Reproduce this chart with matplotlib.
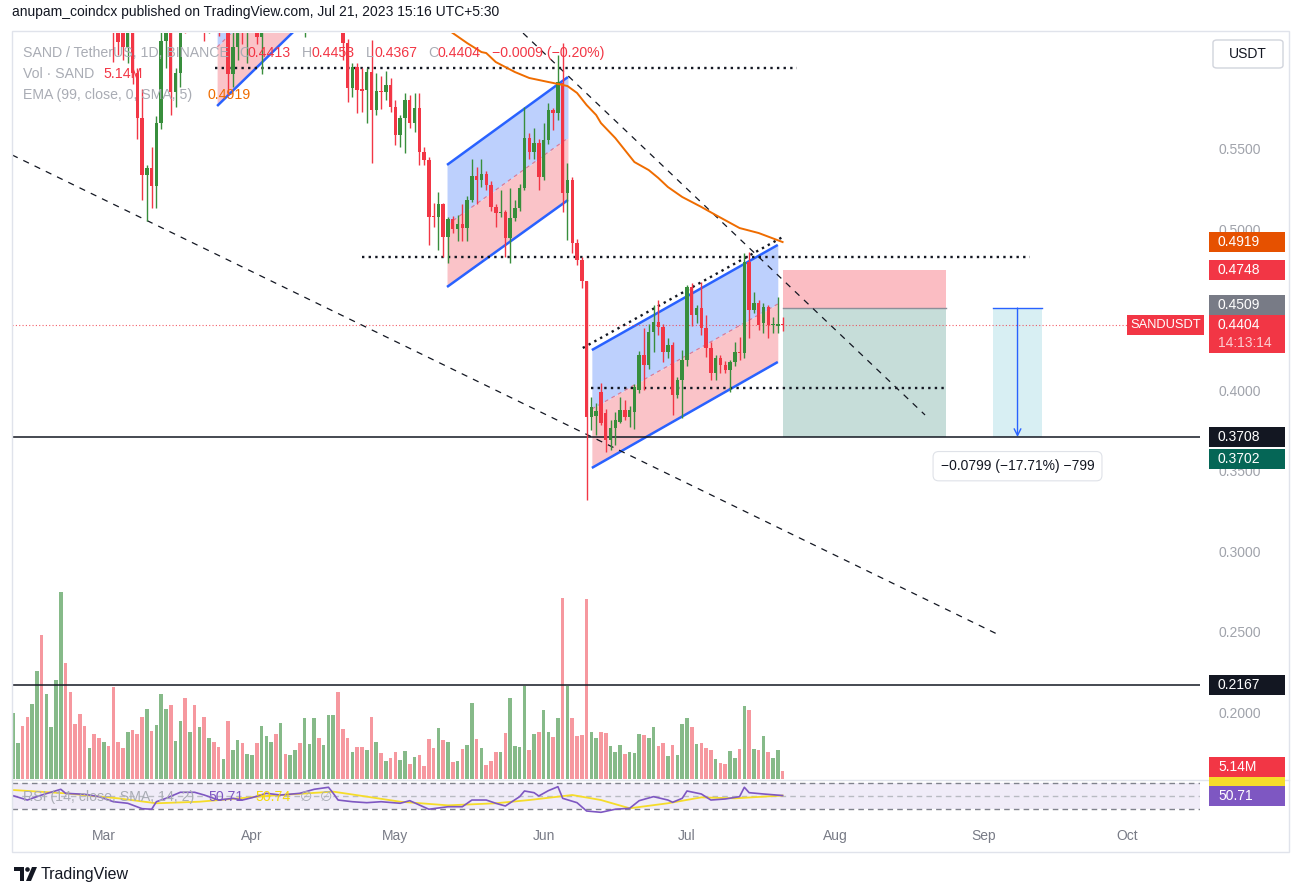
import numpy as np
import pandas as pd
import matplotlib
matplotlib.use("Agg")
import matplotlib.pyplot as plt
from matplotlib.patches import Rectangle, Polygon, Ellipse, FancyBboxPatch
from matplotlib.transforms import blended_transform_factory

plt.rcParams['font.family'] = ['Liberation Sans', 'DejaVu Sans']

# ---------------- data (daily SAND/USDT, from 2023-02-10) ----------------
START = "2023-02-10"
opens = [
    0.680, 0.690, 0.700, 0.680, 0.660, 0.690, 0.740, 0.700, 0.730, 0.750,
    0.780, 0.810, 0.780, 0.750, 0.730, 0.720, 0.700, 0.720, 0.690, 0.670,
    0.690, 0.660, 0.628, 0.623, 0.613, 0.628, 0.597, 0.569, 0.5335, 0.538,
    0.527, 0.566, 0.617, 0.625, 0.585, 0.597, 0.632, 0.626, 0.645, 0.635,
    0.648, 0.628, 0.640, 0.632, 0.628, 0.640, 0.596, 0.613, 0.630, 0.622,
    0.635, 0.645, 0.619, 0.640, 0.652, 0.665, 0.655, 0.670, 0.660, 0.680,
    0.700, 0.670, 0.690, 0.700, 0.710, 0.690, 0.700, 0.705, 0.710, 0.660,
    0.6155, 0.5876, 0.6006, 0.5866, 0.5863, 0.5975, 0.5739, 0.586, 0.5851, 0.5895,
    0.5758, 0.5584, 0.569, 0.580, 0.5658, 0.5752, 0.5478, 0.5429, 0.5078, 0.5075,
    0.5155, 0.495, 0.5062, 0.500, 0.503, 0.5005, 0.518, 0.533, 0.5305, 0.534,
    0.5273, 0.5137, 0.510, 0.5105, 0.4944, 0.5068, 0.513, 0.5255, 0.5565, 0.5478,
    0.5534, 0.5323, 0.5553, 0.5739, 0.572, 0.5907, 0.5224, 0.5304, 0.4913, 0.4807,
    0.4674, 0.3832, 0.3838, 0.3990, 0.3857, 0.3689, 0.3764, 0.3801, 0.3876, 0.3832,
    0.3863, 0.4000, 0.4217, 0.4155, 0.4360, 0.4422, 0.4391, 0.4236, 0.4280, 0.3969,
    0.4062, 0.4186, 0.4640, 0.4466, 0.4509, 0.4385, 0.4261, 0.4106, 0.4199, 0.4155,
    0.4124, 0.4174, 0.4236, 0.4230, 0.4795, 0.4497, 0.4540, 0.4416, 0.4516, 0.4404,
    0.4400, 0.4413]
highs = [
    0.700, 0.710, 0.705, 0.690, 0.700, 0.760, 0.770, 0.740, 0.760, 0.800,
    0.830, 0.820, 0.790, 0.760, 0.740, 0.730, 0.730, 0.725, 0.700, 0.700,
    0.695, 0.665, 0.635, 0.632, 0.640, 0.635, 0.600, 0.587, 0.540, 0.551,
    0.570, 0.630, 0.640, 0.635, 0.600, 0.640, 0.645, 0.655, 0.652, 0.660,
    0.652, 0.648, 0.646, 0.640, 0.650, 0.645, 0.625, 0.640, 0.645, 0.645,
    0.655, 0.650, 0.650, 0.660, 0.675, 0.672, 0.680, 0.680, 0.690, 0.715,
    0.705, 0.700, 0.710, 0.720, 0.715, 0.710, 0.715, 0.720, 0.712, 0.662,
    0.618, 0.603, 0.603, 0.600, 0.600, 0.6174, 0.597, 0.595, 0.598, 0.5938,
    0.580, 0.571, 0.5845, 0.583, 0.5845, 0.5845, 0.551, 0.545, 0.516, 0.523,
    0.516, 0.5075, 0.508, 0.509, 0.5155, 0.5205, 0.5435, 0.5385, 0.5435, 0.536,
    0.530, 0.5155, 0.524, 0.512, 0.5255, 0.518, 0.528, 0.5758, 0.5597, 0.5627,
    0.556, 0.5658, 0.5783, 0.575, 0.6081, 0.6155, 0.541, 0.532, 0.494, 0.4826,
    0.468, 0.3956, 0.392, 0.4043, 0.3880, 0.3814, 0.3863, 0.3957, 0.3938, 0.3900,
    0.4040, 0.4245, 0.4385, 0.4410, 0.4528, 0.4559, 0.4410, 0.4323, 0.4300, 0.4080,
    0.4248, 0.4652, 0.4665, 0.4528, 0.4670, 0.4466, 0.4298, 0.4217, 0.4217, 0.4180,
    0.4186, 0.4300, 0.4330, 0.4851, 0.4857, 0.4609, 0.4559, 0.4540, 0.4530, 0.4455,
    0.4578, 0.4453]
lows = [
    0.670, 0.680, 0.670, 0.650, 0.655, 0.685, 0.690, 0.690, 0.720, 0.740,
    0.770, 0.760, 0.740, 0.720, 0.700, 0.690, 0.690, 0.680, 0.660, 0.660,
    0.640, 0.604, 0.608, 0.605, 0.603, 0.590, 0.556, 0.518, 0.505, 0.513,
    0.513, 0.562, 0.600, 0.571, 0.576, 0.588, 0.622, 0.623, 0.628, 0.630,
    0.617, 0.622, 0.624, 0.620, 0.624, 0.583, 0.588, 0.605, 0.615, 0.603,
    0.628, 0.615, 0.596, 0.630, 0.645, 0.645, 0.650, 0.650, 0.655, 0.670,
    0.650, 0.619, 0.680, 0.690, 0.680, 0.685, 0.690, 0.695, 0.650, 0.605,
    0.5789, 0.582, 0.572, 0.5727, 0.566, 0.541, 0.571, 0.5745, 0.580, 0.5727,
    0.552, 0.551, 0.547, 0.563, 0.560, 0.5398, 0.5398, 0.4901, 0.501, 0.487,
    0.4826, 0.4789, 0.4975, 0.4925, 0.4925, 0.4925, 0.517, 0.5155, 0.526, 0.524,
    0.511, 0.5012, 0.5075, 0.4826, 0.4789, 0.505, 0.511, 0.5242, 0.5435, 0.5435,
    0.5242, 0.5305, 0.553, 0.5615, 0.5677, 0.5106, 0.4932, 0.4851, 0.4776, 0.4634,
    0.3317, 0.3751, 0.372, 0.378, 0.3615, 0.3627, 0.3658, 0.3795, 0.3814, 0.3770,
    0.3757, 0.3980, 0.4000, 0.4130, 0.4236, 0.4342, 0.4174, 0.4200, 0.3845, 0.3950,
    0.3826, 0.4150, 0.4400, 0.4416, 0.4340, 0.4205, 0.4062, 0.4062, 0.4106, 0.4106,
    0.3988, 0.4150, 0.4186, 0.4200, 0.4323, 0.4480, 0.4373, 0.4354, 0.4323, 0.4354,
    0.4354, 0.4367]
closes = [
    0.690, 0.700, 0.680, 0.660, 0.690, 0.740, 0.700, 0.730, 0.750, 0.780,
    0.810, 0.780, 0.750, 0.730, 0.720, 0.700, 0.720, 0.690, 0.670, 0.690,
    0.660, 0.628, 0.616, 0.613, 0.628, 0.597, 0.569, 0.5335, 0.538, 0.527,
    0.566, 0.617, 0.625, 0.585, 0.597, 0.625, 0.626, 0.645, 0.635, 0.648,
    0.628, 0.640, 0.632, 0.628, 0.640, 0.596, 0.613, 0.628, 0.622, 0.635,
    0.645, 0.619, 0.640, 0.652, 0.665, 0.655, 0.670, 0.660, 0.680, 0.700,
    0.670, 0.690, 0.700, 0.710, 0.690, 0.700, 0.705, 0.710, 0.660, 0.6155,
    0.5876, 0.6006, 0.5863, 0.5860, 0.5975, 0.5739, 0.586, 0.5851, 0.5895, 0.5758,
    0.5584, 0.569, 0.580, 0.5658, 0.5752, 0.5478, 0.5429, 0.5075, 0.5072, 0.5155,
    0.495, 0.5062, 0.500, 0.503, 0.5005, 0.518, 0.533, 0.5305, 0.534, 0.5273,
    0.5137, 0.510, 0.5105, 0.4944, 0.5068, 0.513, 0.5255, 0.5565, 0.5478, 0.5534,
    0.5323, 0.5553, 0.5739, 0.572, 0.5913, 0.5224, 0.5304, 0.4913, 0.4807, 0.4674,
    0.3832, 0.3894, 0.3870, 0.3795, 0.3689, 0.3764, 0.3814, 0.3876, 0.3832, 0.3876,
    0.4019, 0.4217, 0.4155, 0.4360, 0.4422, 0.4391, 0.4236, 0.4280, 0.3969, 0.4062,
    0.4186, 0.4640, 0.4466, 0.4509, 0.4385, 0.4261, 0.4106, 0.4199, 0.4155, 0.4124,
    0.4174, 0.4236, 0.4230, 0.4795, 0.4497, 0.4540, 0.4404, 0.4516, 0.4404, 0.4410,
    0.4413, 0.4404]
volumes_m = [
    40.5, 22.4, 32.9, 38.5, 46.5, 66.9, 89.1, 52.7, 32.3, 61.3,
    115.2, 71.8, 53.9, 34.2, 40.3, 32.9, 19.3, 28.0, 25.5, 23.0,
    20.6, 57.0, 23.0, 19.3, 29.2, 30.5, 28.0, 38.5, 43.4, 29.8,
    33.5, 52.7, 43.4, 45.9, 23.7, 36.0, 50.2, 29.2, 45.9, 31.9,
    38.5, 25.5, 23.0, 20.0, 12.6, 36.0, 18.1, 24.3, 22.4, 15.6,
    15.0, 22.4, 32.9, 26.7, 23.0, 28.0, 34.8, 15.6, 15.0, 18.1,
    22.4, 37.9, 21.8, 37.9, 25.5, 21.2, 39.7, 39.7, 53.9, 31.1,
    25.5, 16.9, 20.0, 20.0, 18.1, 38.5, 23.0, 16.3, 11.3, 13.2,
    16.9, 11.9, 17.5, 9.5, 13.8, 15.0, 8.2, 24.9, 19.3, 31.7,
    24.3, 23.0, 10.7, 11.3, 18.7, 21.2, 47.1, 24.9, 19.3, 8.8,
    11.3, 16.9, 16.9, 28.6, 50.2, 20.6, 20.0, 57.6, 18.1, 28.0,
    29.2, 42.8, 29.2, 26.1, 37.9, 111.9, 57.6, 37.9, 26.7, 27.4,
    111.3, 29.2, 25.5, 29.2, 28.6, 20.6, 16.9, 21.2, 15.6, 16.9,
    16.3, 28.0, 27.4, 25.5, 32.3, 20.6, 22.4, 14.4, 21.2, 15.0,
    34.2, 37.9, 32.3, 21.8, 22.4, 19.3, 18.1, 12.6, 10.1, 9.5,
    17.5, 13.2, 18.7, 45.3, 42.8, 18.7, 18.1, 26.7, 16.9, 13.2,
    18.1, 5.14]

# EMA(99) (candle index, value)
ema_idx = [86, 89, 92, 95, 98, 99, 101, 105, 108, 112, 114, 116, 118, 120, 122,
           123, 126, 130, 133, 135, 137, 140, 144, 147, 152, 156, 161]
ema_vals = [0.634, 0.628, 0.6217, 0.6155, 0.6099, 0.6093, 0.6037, 0.5975, 0.5938,
            0.5913, 0.5901, 0.5888, 0.5845, 0.5770, 0.5708, 0.5658, 0.5565, 0.5416,
            0.5366, 0.5317, 0.5261, 0.5199, 0.5137, 0.5087, 0.5006, 0.4975, 0.4919]

# RSI(14) and its SMA
rsi_idx = [0, 3, 6, 10, 11, 15, 18, 21, 24, 27, 29, 30, 32, 35, 38, 40, 43, 46, 48, 50,
           53, 56, 60, 63, 66, 67, 68, 71, 74, 77, 81, 83, 85, 87, 91, 94, 96, 99, 101, 103,
           106, 107, 109, 110, 112, 114, 115, 118, 120, 123, 126, 129, 131, 134, 137, 138,
           140, 141, 144, 146, 149, 152, 153, 154, 157, 161]
rsi_vals = [50.5, 43.8, 51.5, 60.3, 54.1, 52.6, 49.0, 41.2, 38.8, 30.5, 29.6, 41.2, 46.4,
            55.7, 55.7, 51.5, 43.8, 46.4, 43.8, 47.4, 54.1, 51.5, 54.1, 60.3, 63.4, 54.1,
            43.8, 41.2, 39.7, 41.2, 38.8, 42.8, 36.2, 29.6, 33.5, 33.5, 43.8, 43.8, 38.8,
            34.6, 49.0, 57.7, 55.1, 50.0, 58.2, 64.3, 46.4, 39.7, 26.9, 24.9, 29.6, 31.1,
            42.8, 49.0, 43.8, 40.3, 46.4, 57.7, 53.1, 43.8, 45.4, 49.0, 63.4, 55.1, 53.1, 50.71]
rsi_sma_idx = [0, 11, 22, 30, 39, 53, 67, 74, 81, 91, 101, 108, 117, 123, 129, 137, 144, 151, 161]
rsi_sma_vals = [59.2, 54.1, 46.4, 38.8, 41.2, 50.0, 56.7, 49.0, 41.2, 35.6, 38.8, 43.8,
                51.5, 43.8, 31.1, 38.8, 47.9, 46.4, 50.74]

# drawing levels / anchors (candle index, price)
black_levels = [0.3708, 0.2167]
dotted_levels = [(42.3, 164.0, 0.6000), (73.0, 212.8, 0.4826), (121.0, 195.6, 0.4010)]
dotted_slope = ((119.2, 0.4261), (161.0, 0.4950))
dashed_trend_long = ((-0.2, 0.5460), (205.9, 0.2484))
dashed_trend_short = ((106.7, 0.6217), (190.8, 0.3845))
channels = [  # x0, x1, upper(0,1), mid(0,1), lower(0,1)
    (42.7, 64.2, (0.6497, 0.7118), (0.6130, 0.6751), (0.5764, 0.6385)),
    (90.8, 116.1, (0.5398, 0.5944), (0.5025, 0.5565), (0.4640, 0.5180)),
    (121.1, 160.0, (0.4248, 0.4901), (0.3882, 0.4534), (0.3516, 0.4174)),
]
pos_x = (161.1, 195.2)
pos_stop, pos_entry, pos_target = 0.4748, 0.4509, 0.3708
meas_x = (205.0, 215.3)
last_price = 0.4404
price_ticks = [0.20, 0.25, 0.30, 0.35, 0.40, 0.50, 0.55]

# ---------------- colours ----------------
GREEN, RED = "#388e3c", "#f23645"
VOL_G, VOL_R = "#86ba89", "#f6989f"
ORANGE = "#ef6c00"
BLUE = "#2962ff"
BLUE_FILL, PINK_FILL = "#bdd0fd", "#fac3c8"
DARK = "#131722"
AXIS_TXT = "#a0a3ab"

W, H = 1302, 896
fig = plt.figure(figsize=(W / 100, H / 100), dpi=100)
fig.patch.set_facecolor("white")


def fx(p):
    return p / W


def fy(p):
    return 1 - p / H


def rect_px(x0, y0, x1, y1):
    return [fx(x0), fy(y1), fx(x1) - fx(x0), fy(y0) - fy(y1)]


LEFT, RIGHT = 12, 1200
XLIM = (-0.21, (RIGHT - 13) / 4.78)
axv = fig.add_axes(rect_px(LEFT, 33, RIGHT, 779))
ax = fig.add_axes(rect_px(LEFT, 33, RIGHT, 779))
axr = fig.add_axes(rect_px(LEFT, 780, RIGHT, 818))
ax.patch.set_visible(False)
for a in (axv, ax, axr):
    a.set_xlim(*XLIM)
    for s in a.spines.values():
        s.set_visible(False)
    a.set_xticks([])
axv.set_yticks([])
axr.set_yticks([])

o = np.array(opens); h = np.array(highs); l = np.array(lows); c = np.array(closes)
x = np.arange(len(c))
up = c >= o
ccol = np.where(up, GREEN, RED)

# volume
axv.bar(x, volumes_m, width=0.75, color=np.where(up, VOL_G, VOL_R), linewidth=0)
axv.set_ylim(0, 460)

# price
ax.set_ylim(0.15839, 0.62174)
ax.yaxis.tick_right()
ax.set_yticks(price_ticks)
ax.set_yticklabels([f"{v:.4f}" for v in price_ticks], color=AXIS_TXT, fontsize=10)
ax.tick_params(axis="y", length=0, pad=13)

# channels
for x0, x1, upv, mid, low in channels:
    xs = [x0, x1]
    ax.fill_between(xs, mid, upv, color=BLUE_FILL, lw=0, zorder=1)
    ax.fill_between(xs, low, mid, color=PINK_FILL, lw=0, zorder=1)
    ax.plot(xs, upv, color=BLUE, lw=1.8, zorder=3, solid_capstyle="butt")
    ax.plot(xs, low, color=BLUE, lw=1.8, zorder=3, solid_capstyle="butt")
    ax.plot(xs, mid, color=RED, lw=0.9, ls=(0, (3, 3)), alpha=0.55, zorder=3)

# position tool
ax.add_patch(Rectangle((pos_x[0], pos_entry), pos_x[1] - pos_x[0], pos_stop - pos_entry,
                       fc="#fbbdc3", ec="none", zorder=1))
ax.add_patch(Rectangle((pos_x[0], pos_target), pos_x[1] - pos_x[0], pos_entry - pos_target,
                       fc="#c6ddd9", ec="none", zorder=1))
ax.plot(pos_x, [pos_entry, pos_entry], color="#8c8f99", lw=1, zorder=2)

# measure tool
ax.add_patch(Rectangle((meas_x[0], pos_target), meas_x[1] - meas_x[0], pos_entry - pos_target,
                       fc="#d8eff3", ec="none", zorder=1))
ax.plot(meas_x, [pos_entry, pos_entry], color=BLUE, lw=1, zorder=2)
mx = (meas_x[0] + meas_x[1]) / 2
ax.annotate("", xy=(mx, pos_target), xytext=(mx, pos_entry),
            arrowprops=dict(arrowstyle="->", color=BLUE, lw=1, shrinkA=0, shrinkB=0,
                            mutation_scale=12), zorder=3)
ax.annotate("\u22120.0799 (\u221217.71%) \u2212799", xy=(mx, pos_target), xytext=(0, -21),
            textcoords="offset points", ha="center", va="center", fontsize=10, color=DARK,
            bbox=dict(boxstyle="round,pad=0.55,rounding_size=0.4", fc="white",
                      ec="#dfe2e8", lw=0.8), zorder=12)

# lines
for lv in black_levels:
    ax.axhline(lv, color=DARK, lw=1.1, zorder=3)
ax.axhline(last_price, color=RED, lw=0.8, ls=(0, (1, 2)), alpha=0.8, zorder=3)
for x0, x1, lv in dotted_levels:
    ax.plot([x0, x1], [lv, lv], color=DARK, lw=1.7, ls=(0, (1, 1.8)), zorder=3)
ax.plot([dotted_slope[0][0], dotted_slope[1][0]], [dotted_slope[0][1], dotted_slope[1][1]],
        color=DARK, lw=1.7, ls=(0, (1, 1.8)), zorder=3)
for seg in (dashed_trend_long, dashed_trend_short):
    ax.plot([seg[0][0], seg[1][0]], [seg[0][1], seg[1][1]], color=DARK, lw=0.9,
            ls=(0, (5, 5)), zorder=3)

# candles
ax.vlines(x, l, h, colors=ccol, lw=1.0, zorder=5)
ax.bar(x, np.maximum(np.abs(c - o), 0.0007), bottom=np.minimum(o, c), width=0.72,
       color=ccol, linewidth=0, zorder=6)

# EMA
ax.plot(ema_idx, ema_vals, color=ORANGE, lw=1.4, zorder=7)

# RSI pane
axr.set_ylim(16.15, 74.6)
axr.axhspan(30, 70, color="#f0ecf8", lw=0, zorder=0)
axr.axhline(70, color="#80838d", lw=1, ls=(0, (4, 3)), zorder=1)
axr.axhline(30, color="#80838d", lw=1, ls=(0, (4, 3)), zorder=1)
axr.axhline(50, color="#b8bbc2", lw=1, ls=(0, (4, 3)), zorder=1)
axr.plot(rsi_sma_idx, rsi_sma_vals, color="#f5dc2a", lw=1.3, zorder=2)
axr.plot(rsi_idx, rsi_vals, color="#7e57c2", lw=1.2, zorder=3)

# time axis labels
start = pd.Timestamp(START)
months = pd.date_range("2023-03-01", "2023-10-01", freq="MS")
tr = blended_transform_factory(axr.transData, fig.transFigure)
for m in months:
    axr.text((m - start).days, fy(836), m.strftime("%b"), transform=tr, ha="center",
             va="center", fontsize=10, color="#787b86", clip_on=False)

# separators / frame
fig.add_artist(plt.Line2D([fx(LEFT), fx(1289)], [fy(779.5), fy(779.5)], color="#e0e3eb", lw=1))
fig.add_artist(Rectangle((fx(LEFT), fy(852)), fx(1289) - fx(LEFT), fy(31) - fy(852),
                         fill=False, ec="#e0e3eb", lw=1))


# price tags
def tag_box(yc, text, fc, tc="white", x0=1209, x1=1285, hgt=20):
    fig.add_artist(Rectangle((fx(x0), fy(yc + hgt / 2)), fx(x1) - fx(x0), hgt / H,
                             fc=fc, ec="none", zorder=5))
    if text:
        fig.text(fx(x0 + 9), fy(yc), text, color=tc, fontsize=10, ha="left", va="center",
                 zorder=6)


def price_px(p):
    return H - ax.transData.transform((0, p))[1]


tag_box(price_px(0.4919), "0.4919", "#e65100")
tag_box(price_px(0.4748), "0.4748", RED)
tag_box(price_px(0.4509) - 3.5, "0.4509", "#787b86")
yl = price_px(last_price)
fig.add_artist(Rectangle((fx(1127), fy(yl + 10)), fx(1204) - fx(1127), 20 / H, fc=RED,
                         ec="none", zorder=5))
fig.text(fx(1165.5), fy(yl), "SANDUSDT", color="white", fontsize=9.3, va="center",
         ha="center", zorder=6)
fig.add_artist(Rectangle((fx(1209), fy(yl + 28)), fx(1285) - fx(1209), 38 / H, fc=RED,
                         ec="none", zorder=5))
fig.text(fx(1218), fy(yl), "0.4404", color="white", fontsize=10, va="center", zorder=6)
fig.text(fx(1218), fy(yl + 18), "14:13:14", color="#fccdd1", fontsize=10, va="center", zorder=6)
tag_box(price_px(0.3708), "0.3708", DARK)
tag_box(price_px(0.3702) + 21, "0.3702", "#056656")
tag_box(price_px(0.2167), "0.2167", DARK)
tag_box(782, "", "#f5dc2a", hgt=14)
tag_box(767, "5.14M", RED)
tag_box(796, "50.71", "#7e57c2")

# USDT button
fig.add_artist(FancyBboxPatch((fx(1213), fy(68)), fx(1283) - fx(1213), 28 / H,
                              boxstyle="round,pad=0,rounding_size=0.003", fc="white",
                              ec="#d1d4dc", lw=1, transform=fig.transFigure))
fig.text(fx(1248), fy(54), "USDT", color=DARK, fontsize=10, ha="center", va="center")

# header and legend
fig.text(fx(12), fy(12), "anupam_coindcx published on TradingView.com, Jul 21, 2023 15:16 UTC+5:30",
         fontsize=10, color=DARK, va="center")
LEG = "#a9acb4"


def ftxt(px, py, s, col, size=10.2):
    fig.text(fx(px), fy(py), s, color=col, fontsize=size, va="center", ha="left", zorder=8)


ftxt(23, 53, "SAND / TetherUS, 1D, BINANCE", LEG)
for px, lab, val in [(239, "O", "0.4413"), (302, "H", "0.4453"), (366, "L", "0.4367"),
                     (428, "C", "0.4404")]:
    ftxt(px, 53, lab, LEG)
    ftxt(px + 9, 53, val, RED)
ftxt(492, 53, "\u22120.0009 (\u22120.20%)", RED)
ftxt(23, 74, "Vol \u00b7 SAND", LEG)
ftxt(103, 74, "5.14M", RED)
ftxt(23, 95, "EMA (99, close, 0, SMA, 5)", LEG)
ftxt(207, 95, "0.4919", ORANGE)
ftxt(23, 797, "RSI (14, close, SMA, 14, 2)", LEG)
ftxt(208, 797, "50.71", "#7e57c2")
ftxt(255, 797, "50.74", "#f5d90a")
ftxt(300, 797, "\u2205", LEG)
ftxt(320, 797, "\u2205", LEG)

# footer logo + name
fig.add_artist(Polygon([(fx(14), fy(867)), (fx(24), fy(867)), (fx(24), fy(881)), (fx(20), fy(881)),
                        (fx(20), fy(871)), (fx(14), fy(871))], closed=True, fc=DARK, ec="none"))
fig.add_artist(Ellipse((fx(27.5), fy(869.5)), 4.6 / W, 4.6 / H, fc=DARK, ec="none"))
fig.add_artist(Polygon([(fx(32), fy(867)), (fx(37), fy(867)), (fx(31), fy(881)), (fx(26), fy(881))],
                       closed=True, fc=DARK, ec="none"))
fig.text(fx(41), fy(874), "TradingView", fontsize=11.5, color=DARK, va="center")

fig.savefig("out.png", dpi=100, facecolor="white")
